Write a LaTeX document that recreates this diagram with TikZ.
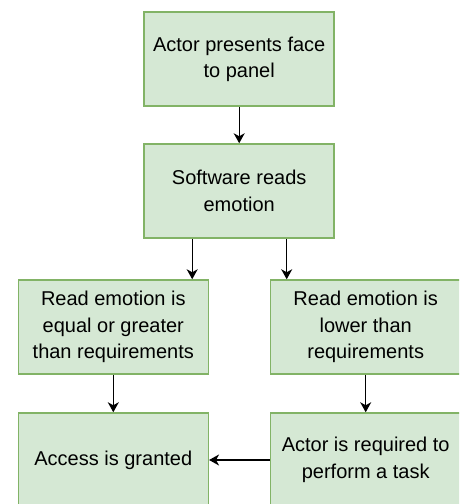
\documentclass[tikz,border=0pt]{standalone}
\usepackage{fontspec}
\setmainfont{Liberation Sans}
\usetikzlibrary{arrows.meta}
\definecolor{boxfill}{HTML}{D5E8D4}
\definecolor{boxline}{HTML}{82B366}
\tikzset{
  stepbox/.style={draw=boxline, fill=boxfill, line width=1.5pt,
    minimum width=190pt, minimum height=94pt, inner sep=0pt,
    align=center, font=\fontsize{20}{26.5}\selectfont},
  flow/.style={draw=black, line width=1.4pt,
    -{Stealth[length=10pt, width=11pt, inset=3pt]}}
}
\begin{document}
\begin{tikzpicture}[x=1pt, y=-1pt]
  \useasboundingbox (0,0) rectangle (459,504);
  \fill[white] (0,0) rectangle (459,504);
  \clip (0,0) rectangle (459,504);

  \node[stepbox] (face) at (239.2,59.2) {Actor presents face\\to panel};
  \node[stepbox] (read) at (239.2,191) {Software reads\\emotion};
  \node[stepbox] (high) at (113.3,327) {Read emotion is\\equal or greater\\than requirements};
  \node[stepbox] (low)  at (365.7,327) {Read emotion is\\lower than\\requirements};
  \node[stepbox] (grant) at (113.3,460) {Access is granted};
  \node[stepbox] (task)  at (365.7,460) {Actor is required to\\perform a task};

  \coordinate (readL) at ([xshift=-47pt]read.south);
  \coordinate (readR) at ([xshift=47.5pt]read.south);

  \draw[flow] (face) -- (read);
  \draw[flow] (readL) -- (readL |- high.north);
  \draw[flow] (readR) -- (readR |- low.north);
  \draw[flow] (high) -- (grant);
  \draw[flow] (low) -- (task);
  \draw[flow] (task) -- (grant);
\end{tikzpicture}
\end{document}
